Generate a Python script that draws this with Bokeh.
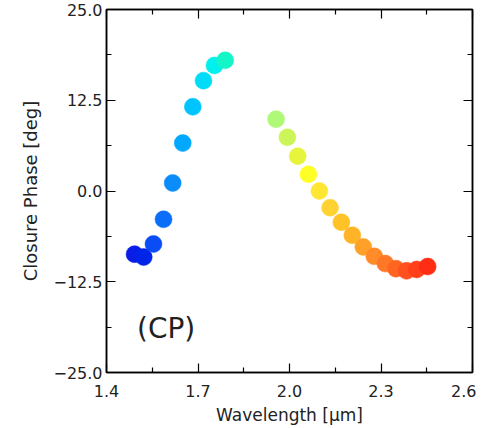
from bokeh.plotting import figure
from bokeh.models import LinearAxis, FixedTicker, ColumnDataSource, Label
from bokeh.embed import file_html
from bokeh.resources import INLINE

# Blue branch (short wavelengths)
wl_blue = [1.492, 1.522, 1.554, 1.587, 1.617, 1.650, 1.683, 1.718, 1.754, 1.789]
cp_blue = [-8.7, -9.1, -7.3, -3.9, 1.1, 6.6, 11.6, 15.2, 17.3, 18.0]
col_blue = ["#0a1de8", "#0024e8", "#0a4cf5", "#0a6ef8", "#0a8cfa",
            "#00a8ff", "#00c4ff", "#00dcf8", "#00f0ee", "#14f5c8"]

# Red branch (long wavelengths)
wl_red = [1.956, 1.993, 2.027, 2.062, 2.098, 2.133, 2.170, 2.206, 2.242, 2.278,
          2.314, 2.349, 2.384, 2.417, 2.453]
cp_red = [9.9, 7.4, 4.8, 2.3, 0.0, -2.3, -4.3, -6.1, -7.7, -9.0,
          -10.0, -10.7, -11.0, -10.8, -10.4]
col_red = ["#b0f878", "#ccf55a", "#e6f53c", "#ffff28", "#ffe632",
           "#ffd232", "#ffc328", "#ffb428", "#ffa028", "#ff8c28",
           "#ff7828", "#ff6420", "#ff5020", "#ff4018", "#ff2d14"]

x_ticks = [1.4, 1.7, 2.0, 2.3, 2.6]
x_minor = [1.55, 1.85, 2.15, 2.45]
x_labels = ["1.4", "1.7", "2.0", "2.3", "2.6"]
y_ticks = [-25, -12.5, 0, 12.5, 25]
y_minor = [-18.75, -6.25, 6.25, 18.75]
y_labels = ["\u221225.0", "\u221212.5", "0.0", "12.5", "25.0"]

FONT = "DejaVu Sans"

p = figure(frame_width=366, frame_height=363, output_backend="svg", toolbar_location=None,
           x_range=(1.4, 2.6), y_range=(-25, 25),
           min_border_left=106, min_border_right=4, min_border_top=9, min_border_bottom=40)
p.grid.visible = False
p.background_fill_color = "white"
p.border_fill_color = "white"
p.outline_line_color = "black"
p.outline_line_width = 1.5

src = ColumnDataSource(dict(x=wl_blue + wl_red, y=cp_blue + cp_red, c=col_blue + col_red))
p.scatter("x", "y", source=src, size=17, fill_color="c", line_color="c", line_width=0.5)

def style(ax, ticks, minor, labels, show):
    ax.ticker = FixedTicker(ticks=ticks, minor_ticks=minor)
    ax.major_tick_in = 9
    ax.major_tick_out = 0
    ax.minor_tick_in = 5
    ax.minor_tick_out = 0
    ax.major_tick_line_color = "black"
    ax.minor_tick_line_color = "black"
    ax.major_tick_line_width = 1.2
    ax.minor_tick_line_width = 1.2
    ax.axis_line_color = "black"
    ax.axis_line_width = 1.5
    if show:
        ax.major_label_overrides = {t: l for t, l in zip(ticks, labels)}
        ax.major_label_text_font = FONT
        ax.major_label_text_font_size = "16px"
        ax.major_label_text_color = "#222222"
        ax.axis_label_text_font = FONT
        ax.axis_label_text_font_size = "17px"
        ax.axis_label_text_font_style = "normal"
        ax.axis_label_text_color = "#222222"
    else:
        ax.major_label_text_color = None
        ax.major_label_text_font_size = "1px"
        ax.major_label_standoff = 0

style(p.xaxis[0], x_ticks, x_minor, x_labels, True)
style(p.yaxis[0], y_ticks, y_minor, y_labels, True)
p.xaxis[0].axis_label = "Wavelength [\u03bcm]"
p.yaxis[0].axis_label = "Closure Phase [deg]"
p.yaxis[0].axis_label_text_font_size = "18px"
p.xaxis[0].major_label_standoff = 12
p.xaxis[0].axis_label_standoff = 5
p.yaxis[0].major_label_standoff = 4
p.yaxis[0].axis_label_standoff = 9

top = LinearAxis()
right = LinearAxis()
style(top, x_ticks, x_minor, x_labels, False)
style(right, y_ticks, y_minor, y_labels, False)
p.add_layout(top, "above")
p.add_layout(right, "right")

p.add_layout(Label(x=1.5, y=-19.0, text="(CP)", text_font=FONT, text_font_size="28px",
                   text_baseline="middle", text_color="#222222"))

open("out.html", "w").write(file_html(p, INLINE))
